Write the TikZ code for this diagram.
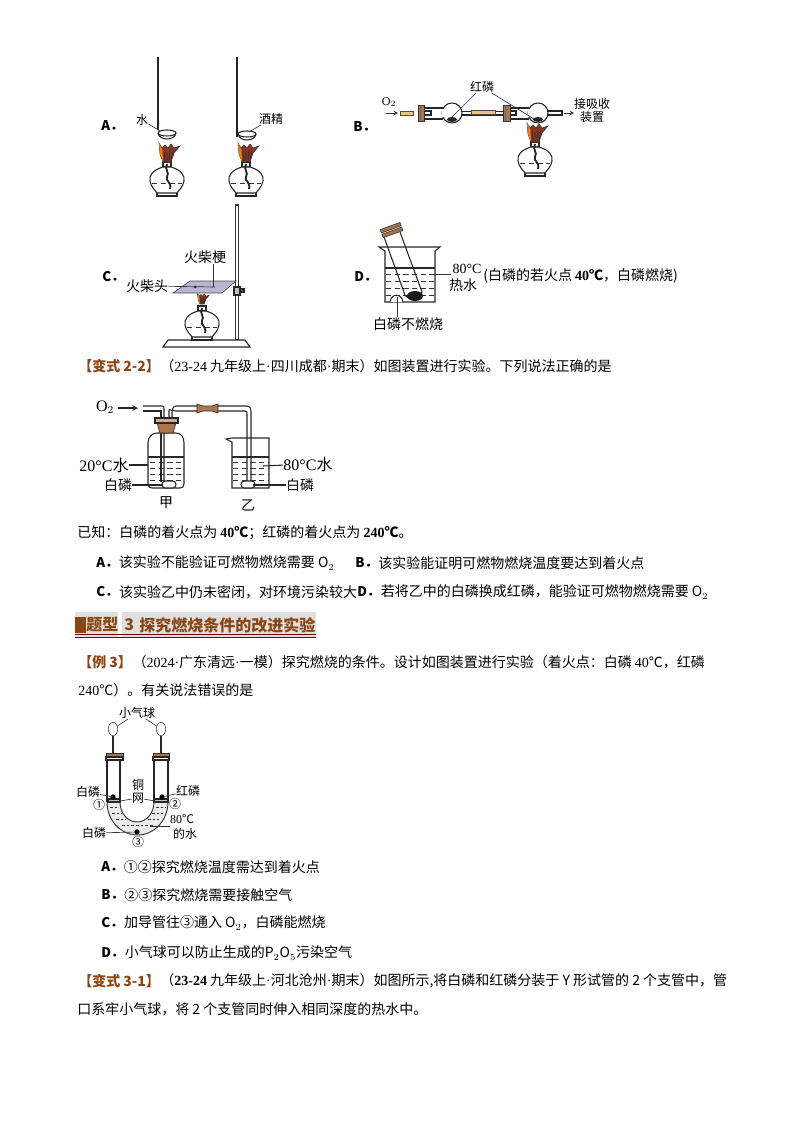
\documentclass[tikz,border=0pt]{standalone}
\usepackage{fontspec}
\setmainfont{Noto Sans CJK SC}
\newfontfamily\latin{Liberation Serif}
\newcommand{\mdot}{{\latin ·}}
\newcommand{\bnum}[1]{{\latin\bfseries #1}}
\usetikzlibrary{positioning,calc,shapes.geometric}
\definecolor{cork}{RGB}{170,118,76}
\definecolor{headbrown}{RGB}{139,69,19}
\definecolor{flamebrown}{RGB}{135,55,35}
\definecolor{tubeyellow}{RGB}{232,200,120}
\tikzset{
    wall/.style={draw=black!85, line width=0.8pt},
    lead/.style={draw=black!80, line width=0.5pt},
    waterline/.style={draw=black!80, line width=0.5pt, dash pattern=on 4pt off 2.5pt},
    stopper/.style={draw=black!80, line width=0.5pt, fill=cork},
    txt/.style={anchor=west, inner sep=0pt, font=\fontsize{10.5}{12}\selectfont},
    lbl/.style={inner sep=0pt, font=\fontsize{9}{10}\selectfont},
    lblbig/.style={inner sep=0pt, font=\fontsize{10.5}{12}\selectfont},
    opt/.style={anchor=west, inner sep=0pt, font=\fontsize{10}{12}\selectfont\bfseries},
    lamp/.pic={
        \draw[wall, fill=white] (-4,0) rectangle (4,5);
        \draw[wall, fill=white] (-4,5) .. controls (-14,8) and (-18,13) .. (-17,19) .. controls (-16,25) and (-12,28) .. (-10,31) -- (10,31) .. controls (12,28) and (16,25) .. (17,19) .. controls (18,13) and (14,8) .. (4,5) -- cycle;
        \draw[wall] (-10,31) -- (-10,34) -- (10,34) -- (10,31);
        \draw[waterline] (-15,21) -- (15,21);
        \draw[line width=1.4pt, black!85] (0,2) .. controls (-3,8) and (3,10) .. (0,15) .. controls (-2,19) and (5,20) .. (3,27);
    },
    flame/.pic={
        \draw[draw=black!80, line width=0.4pt, fill=flamebrown] (-8,-19) -- (-7,-8) -- (-4,0) -- (4,0) -- (7,-9) -- (13,-16) -- (7,-14) -- (4,-18) -- (1,-14) -- (-2,-17) -- (-5,-14) -- cycle;
        \fill[orange!60!brown] (-8,-19) -- (-7,-8) -- (-4,0) -- (-4.5,-12) -- cycle;
        \draw[black!85, line width=0.4pt] (-2,-1) -- (-3,-12) (2,-1) -- (3,-12) (0,-1) -- (0,-10) (4,-2) -- (6,-11);
    },
    dish/.pic={
        \draw[wall, fill=white] (-9,0) .. controls (-8,8) and (8,8) .. (9,0);
        \draw[wall, fill=white] (0,0) ellipse[x radius=9, y radius=3];
    }
}
\begin{document}
\begin{tikzpicture}[x=0.75pt, y=-0.75pt]
\useasboundingbox (0,0) rectangle (794,1123);

% option A
\node[opt] (optA) at (101,126) {A．};
\draw[line width=1.2pt, black!85] (158,57) -- (158,130);
\draw[line width=1.2pt, black!85] (237,57) -- (237,137);
\pic at (167,162) {lamp};
\pic at (167,162) {flame};
\pic at (167,133) {dish};
\pic at (246,162) {lamp};
\pic at (246,162) {flame};
\pic at (247,134) {dish};
\node[lbl] (water) at (142,120) {水};
\node[lbl] (alcohol) at (271,119) {酒精};
\coordinate (dishA) at (160,131);
\coordinate (dishB) at (249,132);
\draw[lead] (water) -- (dishA);
\draw[lead] (alcohol) -- (dishB);

% option B
\node[opt] (optB) at (353,127) {B．};
\node[lbl, font=\fontsize{9}{10}\selectfont\latin] (oxyB) at (389,102) {O$_2$};
\coordinate (arrowBa) at (386,113);
\coordinate (arrowBb) at (398,113);
\draw[-stealth, lead] (arrowBa) -- (arrowBb);
\draw[draw=black!70, line width=0.4pt, fill=tubeyellow] (400,111) rectangle (413,115);
\draw[wall] (424,108) -- (443,108) (424,119) -- (443,119);
\draw[wall] (424,111) -- (431,111) -- (431,115) -- (424,115);
\draw[wall, fill=white] (452,113) circle[radius=10];
\draw[draw=white, line width=1pt] (443,109.5) -- (443,117.5);
\draw[wall] (461,111.5) -- (503,111.5) (461,115) -- (503,115);
\draw[draw=black!70, line width=0.4pt, fill=tubeyellow] (471,110.5) rectangle (495,114.5);
\draw[stopper] (418,105) rectangle (424,121);
\draw[black!60] (420,105) -- (420,121);
\draw[wall] (510,108) -- (529,108) (510,119) -- (529,119);
\draw[wall] (510,111) -- (516,111) -- (516,115) -- (510,115);
\draw[wall, fill=white] (538,113) circle[radius=10];
\draw[draw=white, line width=1pt] (529,109.5) -- (529,117.5);
\draw[wall] (547,111) -- (562,111) -- (562,115) -- (547,115);
\draw[stopper] (503,105) rectangle (510,121);
\draw[black!60] (505,105) -- (505,121);
\coordinate (arrowCa) at (564,113);
\coordinate (arrowCb) at (574,113);
\draw[-stealth, lead] (arrowCa) -- (arrowCb);
\node[lbl] (sink) at (592,112) {\begin{tabular}{@{}c@{}}接吸收\\[-1pt]装置\end{tabular}};
\node[lbl] (redB) at (482,87) {红磷};
\fill[black!85] (452,119.5) ellipse[x radius=5, y radius=2.5];
\fill[black!85] (538,119.5) ellipse[x radius=5, y radius=2.5];
\coordinate (redBa) at (450,119);
\coordinate (redBb) at (534,119);
\draw[lead] (redB) -- (redBa);
\draw[lead] (redB) -- (redBb);
\pic at (535,142) {lamp};
\pic at (535,142) {flame};

% option C
\node[opt] (optC) at (102,277) {C．};
\draw[line width=1pt, black!80, fill=white] (235.5,205) rectangle (238.5,340);
\draw[wall, fill=white] (168,340) -- (245,340) -- (250,347) -- (163,347) -- cycle;
\pic at (202,306) {lamp};
\pic[scale=0.55] at (202,304) {flame};
\draw[draw=black!70, line width=0.5pt, fill=blue!25!gray!45] (190,281) -- (236,281) -- (222,293) -- (173,293) -- cycle;
\draw[wall, fill=gray!50] (234,287) rectangle (240,295);
\draw[wall, fill=black!60] (240,289) rectangle (244,292);
\node[lblbig] (stick) at (205,257) {火柴梗};
\node[lblbig] (head) at (147,286) {火柴头};
\coordinate (stickEnd) at (213,287);
\coordinate (matchEnd) at (215,287);
\draw[lead] (stick.south -| stickEnd) -- (stickEnd);
\draw[lead] (head) -- (matchEnd);
\fill[red!50!black] (195,287) circle[radius=1.5];

% option D
\node[opt] (optD) at (354,277) {D．};
\draw[wall] (379,247) -- (440,247) -- (435,251) -- (435,302) -- (385,302) -- (385,251) -- cycle;
\draw[wall] (385,268) -- (435,268);
\foreach \y in {274,281,288,295} {
    \draw[waterline] (386,\y) -- (434,\y);
}
\draw[wall, fill=white] (390,302) .. controls (391,293) and (402,293) .. (403,302);
\draw[wall] (384,237) -- (405,295) .. controls (408,301) and (420,297) .. (422,292) -- (400,232);
\draw[stopper, rotate around={20:(391,230)}] (381,226) rectangle (402,229.5);
\draw[stopper, rotate around={20:(391,230)}] (381,231) rectangle (402,234.5);
\fill[black!90] (415,296) ellipse[x radius=8, y radius=5];
\node[lbl, font=\fontsize{10.5}{12}\selectfont\latin] (hot) at (467,269) {80°C};
\node[lblbig] (hotb) at (463,285) {热水};
\coordinate (hotEnd) at (432,274);
\coordinate (hotStart) at (451,274);
\draw[lead] (hotStart) -- (hotEnd);
\node[lblbig] (noburn) at (408,324) {白磷不燃烧};
\coordinate (humpD) at (397,297);
\draw[lead] (noburn.north -| humpD) -- (humpD);
\node[txt] (noteD) at (483,276) {(白磷的若火点 \bnum{40}\textbf{℃}，白磷燃烧)};

% question 2-2
\node[txt, text=headbrown, font=\fontsize{10.5}{12}\selectfont\bfseries] (tagB) at (78,366) {【变式 2-2】};
\node[txt, right=0pt of tagB] (quest) {（{\latin 23-24} 九年级上\mdot 四川成都\mdot 期末）如图装置进行实验。下列说法正确的是};

% bottle and beaker
\node[lblbig, font=\fontsize{12}{14}\selectfont\latin] (oxy) at (105,407) {O$_2$};
\coordinate (arrowDa) at (118,408);
\coordinate (arrowDb) at (138,408);
\draw[-stealth, wall] (arrowDa) -- (arrowDb);
\draw[wall, fill=white] (148,443) .. controls (148,437) and (152,433) .. (157,433) -- (176,433) .. controls (181,433) and (184,437) .. (184,443) -- (184,484) .. controls (184,487) and (182,488) .. (180,488) -- (152,488) .. controls (150,488) and (148,487) .. (148,484) -- cycle;
\draw[wall] (148,457) -- (184,457);
\foreach \y in {462,468,474,480} {
    \draw[waterline] (150,\y) -- (183,\y);
}
\draw[wall] (143,406) -- (162,406) .. controls (164,406) and (164,407) .. (164,409) -- (164,482);
\draw[wall] (143,411) -- (161,411) -- (161,482);
\draw[wall] (172,433) -- (172,412) .. controls (172,410) and (173,406) .. (176,406) -- (197,406);
\draw[wall] (169,433) -- (169,411) .. controls (169,408) and (170,411) .. (176,411) -- (197,411);
\draw[wall] (218,406) -- (247,406) .. controls (250,406) and (251,408) .. (251,411) -- (251,482);
\draw[wall] (218,411) -- (245,411) .. controls (247,411) and (247,412) .. (247,414) -- (247,482);
\draw[stopper] (197,404) -- (203,406) -- (212,406) -- (218,404) -- (218,413) -- (212,411) -- (203,411) -- (197,413) -- cycle;
\draw[stopper] (157,423) -- (176,423) -- (173,433) -- (160,433) -- cycle;
\draw[wall, fill=cork!60] (155,418) rectangle (178,423);
\draw[wall, fill=white, rounded corners=2.5pt] (162,481) rectangle (176,488);
\draw[wall] (232,438) -- (269,438) -- (269,488) -- (232,488) -- (232,442) -- (226,439) -- (232,438);
\draw[wall] (232,457) -- (269,457);
\foreach \y in {462,468,474,480} {
    \draw[waterline] (233,\y) -- (268,\y);
}
\draw[wall, fill=white, rounded corners=2.5pt] (241,481) rectangle (255,488);
\node[lblbig, font=\fontsize{12}{14}\selectfont] (coldw) at (104,465) {{\latin 20°C}水};
\node[lblbig] (phosA) at (118,485) {白磷};
\node[lblbig] (jia) at (166,503) {甲};
\node[lblbig, font=\fontsize{12}{14}\selectfont] (hotw) at (308,464) {{\latin 80°C}水};
\node[lblbig] (phosB) at (300,485) {白磷};
\node[lblbig] (yi) at (248,505) {乙};
\coordinate (coldEnd) at (148,465);
\coordinate (phosAEnd) at (163,485);
\coordinate (hotwEnd) at (263,466);
\coordinate (phosBEnd) at (253,485);
\draw[wall] (coldw) -- (coldEnd);
\draw[wall] (phosA) -- (phosAEnd);
\draw[wall] (hotw) -- (hotwEnd);
\draw[wall] (phosB) -- (phosBEnd);

% text lines
\node[txt] (known) at (77,533) {已知：白磷的着火点为 \bnum{40}\textbf{℃}；红磷的着火点为 \bnum{240}\textbf{℃}。};
\node[opt] (ansA) at (96,563) {A．};
\node[txt, right=0pt of ansA] (ansAt) {该实验不能验证可燃物燃烧需要 O$_2$};
\node[opt] (ansB) at (355,563) {B．};
\node[txt, right=0pt of ansB] (ansBt) {该实验能证明可燃物燃烧温度要达到着火点};
\node[opt] (ansC) at (96,592) {C．};
\node[txt, right=0pt of ansC] (ansCt) {该实验乙中仍未密闭，对环境污染较大};
\node[opt] (ansD) at (357,592) {D．};
\node[txt, right=0pt of ansD] (ansDt) {若将乙中的白磷换成红磷，能验证可燃物燃烧需要 O$_2$};

% heading
\fill[gray!25] (75,612) rectangle (118,638);
\fill[gray!25] (122,612) rectangle (316,638);
\fill[headbrown] (75,617) rectangle (86,633);
\draw[red!50!black, line width=0.6pt] (75,634) -- (316,634);
\draw[red!50!black, line width=0.6pt] (75,637) -- (316,637);
\node[txt, text=headbrown, font=\fontsize{12}{14}\selectfont\bfseries] (head3) at (86,625) {题型};
\node[txt, text=headbrown, font=\fontsize{12}{14}\selectfont\bfseries] (num3) at (124,625) {3};
\node[txt, text=headbrown, font=\fontsize{12}{14}\selectfont\bfseries] (title3) at (139,625) {探究燃烧条件的改进实验};

% example 3
\node[txt, text=headbrown, font=\fontsize{10.5}{12}\selectfont\bfseries] (tagC) at (78,662) {【例 3】};
\node[txt, right=0pt of tagC] (examp) {（{\latin 2024}\mdot 广东清远\mdot 一模）探究燃烧的条件。设计如图装置进行实验（着火点：白磷 {\latin 40}℃，红磷};
\node[txt] (exampb) at (78,690) {{\latin 240}℃）。有关说法错误的是};

% U tube
\draw[draw=black!80, line width=0.7pt, fill=black!8] (107,802) arc[x radius=30.5, y radius=33, start angle=180, end angle=0] -- (154,802) arc[x radius=17, y radius=20, start angle=0, end angle=180] -- cycle;
\foreach \x/\y/\e in {110/807/118,156/807/166,112/813/122,152/813/163,116/819/126,148/819/159,122/825/153} {
    \draw[waterline, line width=0.35pt, dash pattern=on 2pt off 1.5pt] (\x,\y) -- (\e,\y);
}
\draw[wall] (107,760) -- (107,802) (120,760) -- (120,802);
\draw[wall] (154,760) -- (154,802) (168,760) -- (168,802);
\draw[wall, fill=gray!50] (108,799) rectangle (120,802);
\draw[wall, fill=gray!50] (154,799) rectangle (168,802);
\draw[stopper] (106,753) rectangle (123,757);
\draw[wall, fill=white] (106,757) rectangle (123,760);
\draw[stopper] (153,753) rectangle (169,757);
\draw[wall, fill=white] (153,757) rectangle (169,760);
\node[draw=black!80, fill=white, ellipse, inner sep=0pt, minimum width=7pt, minimum height=10pt] (ballA) at (113,729) {};
\node[draw=black!80, fill=white, ellipse, inner sep=0pt, minimum width=7pt, minimum height=10pt] (ballB) at (161,729) {};
\coordinate (stemA) at (113,753);
\coordinate (stemB) at (161,753);
\draw[wall] (ballA) -- (stemA);
\draw[wall] (ballB) -- (stemB);
\node[lbl] (balloon) at (137,713) {小气球};
\draw[lead] (balloon) -- (ballA);
\draw[lead] (balloon) -- (ballB);
\node[lbl] (mesha) at (138,785) {铜};
\node[lbl] (meshb) at (138,798) {网};
\coordinate (meshA) at (120,801);
\coordinate (meshB) at (155,801);
\draw[lead] (meshb) -- (meshA);
\draw[lead] (meshb) -- (meshB);
\node[circle, fill=black, inner sep=0pt, minimum size=4pt] (dotA) at (113,797) {};
\node[circle, fill=black, inner sep=0pt, minimum size=4pt] (dotB) at (162,797) {};
\node[circle, fill=black, inner sep=0pt, minimum size=4pt] (dotC) at (137,832) {};
\node[lbl] (labA) at (88,792) {白磷};
\node[lbl] (labB) at (188,791) {红磷};
\node[lbl] (labC) at (94,833) {白磷};
\draw[lead] (labA) -- (dotA);
\draw[lead] (labB) -- (dotB);
\draw[lead] (labC) -- (dotC);
\node[lbl] (one) at (99,805) {①};
\node[lbl] (two) at (175,804) {②};
\node[lbl] (three) at (138,842) {③};
\node[lbl] (tempa) at (182,819) {{\latin 80}℃};
\node[lbl] (tempb) at (185,834) {的水};
\coordinate (waterEnd) at (150,826);
\coordinate (waterStart) at (170,826);
\draw[lead] (waterStart) -- (waterEnd);

% answers of example 3
\node[opt] (exA) at (101,867) {A．};
\node[txt, right=0pt of exA] (exAt) {①②探究燃烧温度需达到着火点};
\node[opt] (exB) at (101,895) {B．};
\node[txt, right=0pt of exB] (exBt) {②③探究燃烧需要接触空气};
\node[opt] (exC) at (101,923) {C．};
\node[txt, right=0pt of exC] (exCt) {加导管往③通入 O$_2$，白磷能燃烧};
\node[opt] (exD) at (101,953) {D．};
\node[txt, right=0pt of exD] (exDt) {小气球可以防止生成的P$_2$O$_5$污染空气};

% question 3-1
\node[txt, text=headbrown, font=\fontsize{10.5}{12}\selectfont\bfseries] (tagD) at (78,981) {【变式 3-1】};
\node[txt, right=0pt of tagD] (questb) {（\bnum{23-24} 九年级上\mdot 河北沧州\mdot 期末）如图所示,将白磷和红磷分装于 Y 形试管的 2 个支管中，管};
\node[txt] (questc) at (77,1009) {口系牢小气球，将 2 个支管同时伸入相同深度的热水中。};
\end{tikzpicture}
\end{document}
